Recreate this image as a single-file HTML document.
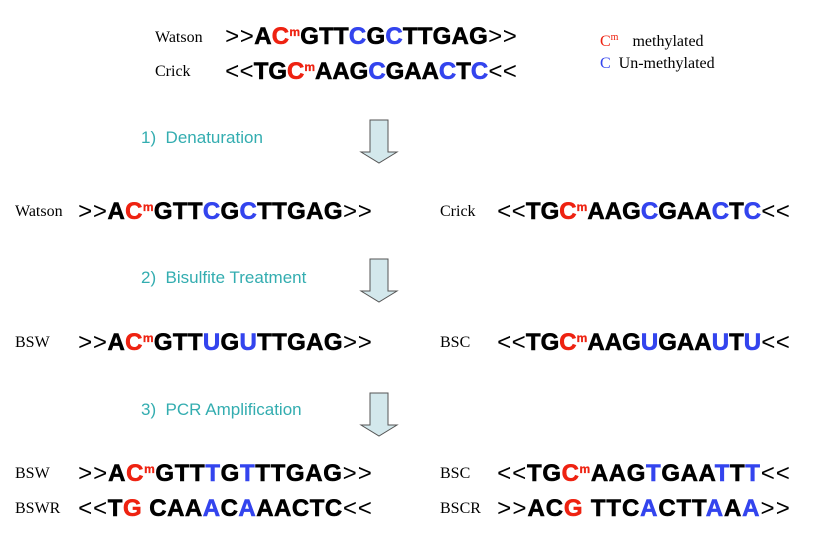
<!DOCTYPE html>
<html><head><meta charset="utf-8"><style>
html,body{margin:0;padding:0;background:#fff;}
svg{display:block}
.lab{font-family:"Liberation Serif",serif;font-size:16px;fill:#000}
.step{font-family:"Liberation Sans",sans-serif;font-size:17px;fill:#33adb0}
.seq{font-family:"Liberation Sans",sans-serif;font-weight:bold;font-size:24px;fill:#000;stroke:#000;stroke-width:0.6}
.ar{font-family:"Liberation Mono",monospace;font-weight:normal;stroke-width:0}
.r{fill:#ee2211;stroke:#ee2211}.b{fill:#3344ee;stroke:#3344ee}
.m{font-size:12px;stroke-width:0.3}
.lg{font-family:"Liberation Serif",serif;font-size:16px;fill:#000}
.lr{fill:#ee2211}.lb{fill:#3344ee}
</style></head><body>
<svg width="815" height="546" viewBox="0 0 815 546" xmlns="http://www.w3.org/2000/svg">
<defs>
<polygon id="arw" points="0,0 18,0 18,32 27,32 9,43 -9,32 0,32" fill="#d3e8ec" stroke="#555" stroke-width="1"/>
</defs>
<use href="#arw" x="370" y="120"/>
<use href="#arw" x="370" y="259"/>
<use href="#arw" x="370" y="393"/>

<text class="lab" x="155" y="42">Watson</text>
<text class="seq" x="225" y="44" textLength="292" lengthAdjust="spacing"><tspan class="ar">&gt;&gt;</tspan>A<tspan class="r">C</tspan><tspan class="r m" dy="-8">m</tspan><tspan dy="8">GTT</tspan><tspan class="b">C</tspan>G<tspan class="b">C</tspan>TTGAG<tspan class="ar">&gt;&gt;</tspan></text>
<text class="lab" x="155" y="76">Crick</text>
<text class="seq" x="225" y="79" textLength="292" lengthAdjust="spacing"><tspan class="ar">&lt;&lt;</tspan>TG<tspan class="r">C</tspan><tspan class="r m" dy="-8">m</tspan><tspan dy="8">AAG</tspan><tspan class="b">C</tspan>GAA<tspan class="b">C</tspan>T<tspan class="b">C</tspan><tspan class="ar">&lt;&lt;</tspan></text>

<text class="lg" x="600" y="46"><tspan class="lr">C</tspan><tspan class="lr" font-size="10" dy="-6">m</tspan><tspan dy="6" dx="14">methylated</tspan></text>
<text class="lg" x="600" y="68"><tspan class="lb">C</tspan><tspan dx="8">Un-methylated</tspan></text>

<text class="step" x="141" y="143">1)&#160; Denaturation</text>
<text class="step" x="141" y="283">2)&#160; Bisulfite Treatment</text>
<text class="step" x="141" y="415">3)&#160; PCR Amplification</text>

<text class="lab" x="15" y="216">Watson</text>
<text class="seq" x="78" y="219" textLength="294" lengthAdjust="spacing"><tspan class="ar">&gt;&gt;</tspan>A<tspan class="r">C</tspan><tspan class="r m" dy="-8">m</tspan><tspan dy="8">GTT</tspan><tspan class="b">C</tspan>G<tspan class="b">C</tspan>TTGAG<tspan class="ar">&gt;&gt;</tspan></text>
<text class="lab" x="440" y="216">Crick</text>
<text class="seq" x="497" y="219" textLength="293" lengthAdjust="spacing"><tspan class="ar">&lt;&lt;</tspan>TG<tspan class="r">C</tspan><tspan class="r m" dy="-8">m</tspan><tspan dy="8">AAG</tspan><tspan class="b">C</tspan>GAA<tspan class="b">C</tspan>T<tspan class="b">C</tspan><tspan class="ar">&lt;&lt;</tspan></text>

<text class="lab" x="15" y="347">BSW</text>
<text class="seq" x="78" y="350" textLength="294" lengthAdjust="spacing"><tspan class="ar">&gt;&gt;</tspan>A<tspan class="r">C</tspan><tspan class="r m" dy="-8">m</tspan><tspan dy="8">GTT</tspan><tspan class="b">U</tspan>G<tspan class="b">U</tspan>TTGAG<tspan class="ar">&gt;&gt;</tspan></text>
<text class="lab" x="440" y="347">BSC</text>
<text class="seq" x="497" y="350" textLength="293" lengthAdjust="spacing"><tspan class="ar">&lt;&lt;</tspan>TG<tspan class="r">C</tspan><tspan class="r m" dy="-8">m</tspan><tspan dy="8">AAG</tspan><tspan class="b">U</tspan>GAA<tspan class="b">U</tspan>T<tspan class="b">U</tspan><tspan class="ar">&lt;&lt;</tspan></text>

<text class="lab" x="15" y="478">BSW</text>
<text class="seq" x="78" y="481" textLength="294" lengthAdjust="spacing"><tspan class="ar">&gt;&gt;</tspan>A<tspan class="r">C</tspan><tspan class="r m" dy="-8">m</tspan><tspan dy="8">GTT</tspan><tspan class="b">T</tspan>G<tspan class="b">T</tspan>TTGAG<tspan class="ar">&gt;&gt;</tspan></text>
<text class="lab" x="440" y="478">BSC</text>
<text class="seq" x="497" y="481" textLength="293" lengthAdjust="spacing"><tspan class="ar">&lt;&lt;</tspan>TG<tspan class="r">C</tspan><tspan class="r m" dy="-8">m</tspan><tspan dy="8">AAG</tspan><tspan class="b">T</tspan>GAA<tspan class="b">T</tspan>T<tspan class="b">T</tspan><tspan class="ar">&lt;&lt;</tspan></text>

<text class="lab" x="15" y="513">BSWR</text>
<text class="seq" x="78" y="516" textLength="294" lengthAdjust="spacing"><tspan class="ar">&lt;&lt;</tspan>T<tspan class="r">G</tspan> CAA<tspan class="b">A</tspan>C<tspan class="b">A</tspan>AACTC<tspan class="ar">&lt;&lt;</tspan></text>
<text class="lab" x="440" y="513">BSCR</text>
<text class="seq" x="497" y="516" textLength="293" lengthAdjust="spacing"><tspan class="ar">&gt;&gt;</tspan>AC<tspan class="r">G</tspan> TTC<tspan class="b">A</tspan>CTT<tspan class="b">A</tspan>A<tspan class="b">A</tspan><tspan class="ar">&gt;&gt;</tspan></text>
</svg>
</body></html>
